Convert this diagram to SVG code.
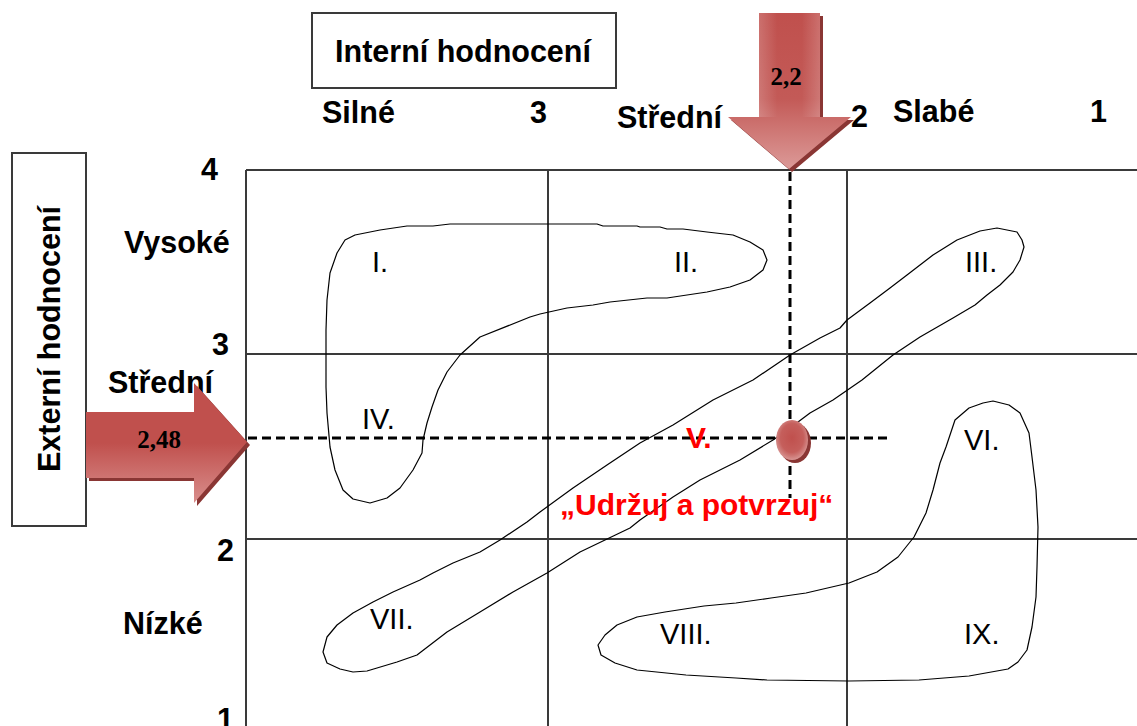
<svg xmlns="http://www.w3.org/2000/svg" width="1137" height="726" viewBox="0 0 1137 726">
  <style>
    .lbl { font-family: "Liberation Sans", Arial, sans-serif; font-weight: bold; font-size: 30.5px; fill: #000; }
    .num { font-family: "Liberation Sans", Arial, sans-serif; font-size: 29px; fill: #000; }
    .red { font-family: "Liberation Sans", Arial, sans-serif; font-weight: bold; font-size: 30px; fill: #ff0000; }
    .val { font-family: "Liberation Serif", "Times New Roman", serif; font-weight: bold; font-size: 25px; fill: #000; text-anchor: middle; }
    .grid { stroke: #3a3a3a; stroke-width: 2; fill: none; }
    .blob { stroke: #000; stroke-width: 1.2; fill: none; stroke-linejoin: round; }
    .dash { stroke: #000; stroke-width: 3; stroke-dasharray: 9 5; fill: none; }
    .box { fill: #fff; stroke: #3a3a3a; stroke-width: 2; }
    .shadow { fill: #8a3634; }
  </style>
  <defs>
    <linearGradient id="downGrad" x1="0" y1="0" x2="0" y2="1">
      <stop offset="0" stop-color="#c0504d"/>
      <stop offset="0.55" stop-color="#c35a57"/>
      <stop offset="1" stop-color="#dc9a98"/>
    </linearGradient>
    <linearGradient id="shaftSide" x1="0" y1="0" x2="1" y2="0">
      <stop offset="0" stop-color="#ffffff" stop-opacity="0.18"/>
      <stop offset="0.3" stop-color="#ffffff" stop-opacity="0"/>
      <stop offset="0.7" stop-color="#ffffff" stop-opacity="0"/>
      <stop offset="1" stop-color="#ffffff" stop-opacity="0.18"/>
    </linearGradient>
    <linearGradient id="rightGrad" x1="0" y1="0" x2="0" y2="1">
      <stop offset="0" stop-color="#c0504d"/>
      <stop offset="0.5" stop-color="#c0504d"/>
      <stop offset="1" stop-color="#d98e8c"/>
    </linearGradient>
    <radialGradient id="dotGrad" cx="0.5" cy="0.45" r="0.6">
      <stop offset="0" stop-color="#c0504d"/>
      <stop offset="0.6" stop-color="#c55f5c"/>
      <stop offset="1" stop-color="#dda3a1"/>
    </radialGradient>
  </defs>

  <!-- matrix grid -->
  <g id="grid">
    <line class="grid" x1="246" y1="170" x2="1137" y2="170" stroke="#6a6a6a"/>
    <line class="grid" x1="246" y1="354" x2="1137" y2="354"/>
    <line class="grid" x1="246" y1="539" x2="1137" y2="539"/>
    <line class="grid" x1="246" y1="170" x2="246" y2="726"/>
    <line class="grid" x1="548" y1="170" x2="548" y2="726"/>
    <line class="grid" x1="847" y1="170" x2="847" y2="726"/>
  </g>

  <!-- strategy zones -->
  <g id="zone-grow">
    <polygon class="blob" points="326,330 327,300 330,273 337,253 345,240 355,235 380,230 407,226 433,226 450,224 540,224 597,224 603,226 637,226 640,227 660,227 667,229 683,229 707,232 733,235 750,242 763,250 767,260 763,270 750,280 730,287 707,292 667,298 647,298 610,302 593,305 567,308 540,314 530,317 480,337 460,355 447,372 438,390 432,407 427,423 423,440 422,453 413,470 400,488 387,498 370,503 353,499 343,490 335,470 330,447 327,413 326,387 326,357"/>
  </g>
  <g id="zone-hold">
    <polygon class="blob" points="323,652 327,637 337,625 353,613 373,602 393,592 420,580 433,573 453,563 480,552 500,540 527,522 540,512 573,488 607,465 640,443 673,425 713,400 753,380 790,355 820,338 840,328 847,320 870,303 890,288 907,275 933,255 957,240 980,231 997,228 1017,232 1022,240 1024,247 1020,260 1013,272 1000,285 987,295 975,305 953,318 920,337 893,355 862,380 833,400 810,413 790,428 773,440 740,460 700,480 673,497 640,520 630,528 580,552 547,573 513,592 480,612 447,632 417,655 397,662 367,671 353,672 340,669 327,663"/>
  </g>
  <g id="zone-harvest">
    <polygon class="blob" points="993,401 1009,405 1020,413 1029,433 1032,457 1036,490 1038,527 1037,567 1036,597 1032,627 1027,650 1018,662 1008,669 969,676 944,678 919,680 849,681 767,680 736,678 686,675 637,670 615,663 601,655 598,645 605,635 617,625 637,617 665,612 704,606 736,603 771,598 806,593 849,583 877,572 898,557 914,537 926,513 933,490 940,463 946,447 955,420 969,408 983,403"/>
  </g>

  <!-- cell labels -->
  <g id="cells">
    <text class="num" x="372" y="272">I.</text>
    <text class="num" x="674" y="272">II.</text>
    <text class="num" x="965" y="272">III.</text>
    <text class="num" x="362" y="429">IV.</text>
    <text class="num" x="964" y="450">VI.</text>
    <text class="num" x="370" y="629">VII.</text>
    <text class="num" x="660" y="644">VIII.</text>
    <text class="num" x="964" y="644">IX.</text>
  </g>

  <!-- axis headings -->
  <g id="axis-internal">
    <rect class="box" x="312" y="13" width="304" height="75"/>
    <text class="lbl" x="463" y="62" text-anchor="middle">Interní hodnocení</text>
  </g>
  <g id="axis-external">
    <rect class="box" x="12" y="153" width="74" height="373"/>
    <text class="lbl" transform="translate(60,339) rotate(-90)" text-anchor="middle">Externí hodnocení</text>
  </g>

  <!-- scale labels -->
  <g id="scale-top">
    <text class="lbl" x="322" y="123">Silné</text>
    <text class="lbl" x="530" y="123">3</text>
    <text class="lbl" x="617" y="128">Střední</text>
    <text class="lbl" x="851" y="127">2</text>
    <text class="lbl" x="893" y="122">Slabé</text>
    <text class="lbl" x="1090" y="122">1</text>
  </g>
  <g id="scale-left">
    <text class="lbl" x="201" y="180">4</text>
    <text class="lbl" x="124" y="253">Vysoké</text>
    <text class="lbl" x="212" y="355">3</text>
    <text class="lbl" x="108" y="393">Střední</text>
    <text class="lbl" x="217" y="561">2</text>
    <text class="lbl" x="123" y="634">Nízké</text>
    <text class="lbl" x="217" y="730">1</text>
  </g>

  <!-- position lines -->
  <g id="connectors">
    <line class="dash" x1="248" y1="438" x2="888" y2="438"/>
    <line class="dash" x1="790" y1="172" x2="790" y2="498"/>
  </g>

  <!-- internal score arrow -->
  <g id="arrow-internal">
    <polygon class="shadow" points="762,16 823,16 823,120 854,120 792,172 731,120 762,120"/>
    <polygon fill="url(#downGrad)" points="759,13 820,13 820,117 851,117 789,169 728,117 759,117"/>
    <rect x="759" y="13" width="61" height="104" fill="url(#shaftSide)"/>
    <text class="val" x="786" y="85">2,2</text>
  </g>

  <!-- external score arrow -->
  <g id="arrow-external">
    <polygon class="shadow" points="89,415 197,415 197,386 250,445 197,506 197,481 89,481"/>
    <polygon fill="url(#rightGrad)" points="86,412 194,412 194,383 247,442 194,503 194,478 86,478"/>
    <text class="val" x="159" y="448">2,48</text>
  </g>

  <!-- current position -->
  <g id="position">
    <ellipse class="shadow" cx="795" cy="443" rx="16" ry="20"/>
    <ellipse cx="792" cy="440" rx="16" ry="20" fill="url(#dotGrad)"/>
    <text class="red" x="686" y="448">V.</text>
    <text class="red" x="560" y="515">„Udržuj a potvrzuj“</text>
  </g>
</svg>
